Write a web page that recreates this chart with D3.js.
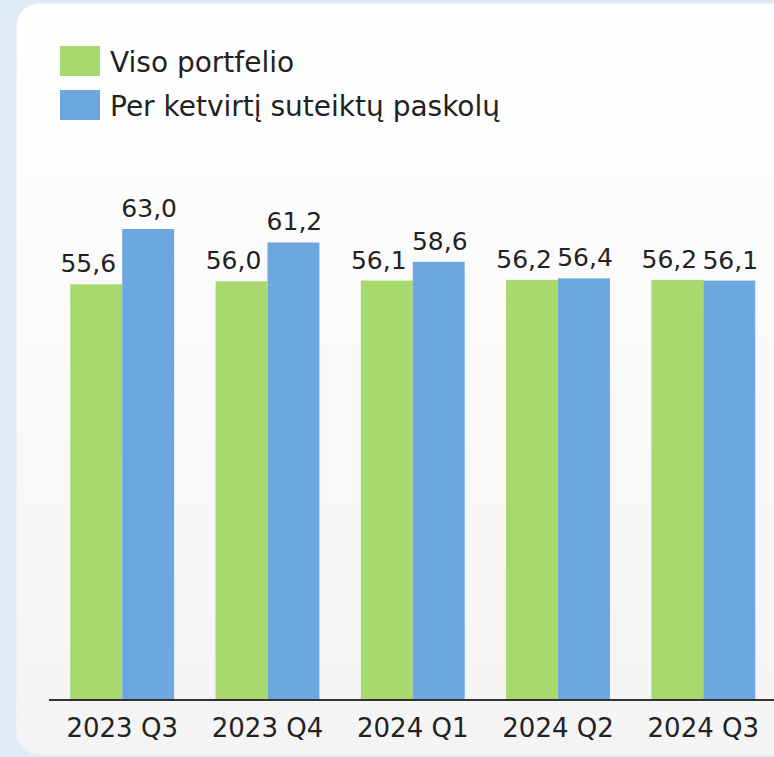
<!DOCTYPE html>
<html>
<head>
<meta charset="utf-8">
<script src="https://cdn.jsdelivr.net/npm/d3@7"></script>
<style>
  html, body { margin: 0; padding: 0; background: #deeaf5; }
  svg { display: block; }
</style>
</head>
<body>
<script>
const quarters = ["2023 Q3", "2023 Q4", "2024 Q1", "2024 Q2", "2024 Q3"];
const visoPortfelio = [55.6, 56.0, 56.1, 56.2, 56.2];
const perKetvirti = [63.0, 61.2, 58.6, 56.4, 56.1];
const seriesNames = ["Viso portfelio", "Per ketvirtį suteiktų paskolų"];
const seriesColors = ["#a8d96f", "#6ca7e0"];

const w = 774;
const h = 757;
const font = "'DejaVu Sans', sans-serif";

const svg = d3.select("body")
  .append("svg")
  .attr("width", w)
  .attr("height", h);

const grad = svg.append("defs").append("linearGradient")
  .attr("id", "cardbg")
  .attr("x1", 0).attr("y1", 0).attr("x2", 0).attr("y2", 1);
grad.append("stop").attr("offset", "0%").attr("stop-color", "#ffffff");
grad.append("stop").attr("offset", "100%").attr("stop-color", "#f4f4f4");

// card
svg.append("rect")
  .attr("x", 16.5).attr("y", 3.5)
  .attr("width", 800).attr("height", 751)
  .attr("rx", 22)
  .attr("fill", "url(#cardbg)")
  .attr("stroke", "#e9f2fa");

// legend
const legend = svg.append("g");
seriesNames.forEach((name, i) => {
  legend.append("rect")
    .attr("x", 60).attr("y", 46 + i * 44)
    .attr("width", 40).attr("height", 30)
    .attr("fill", seriesColors[i]);
  legend.append("text")
    .attr("x", 110).attr("y", 72 + i * 44)
    .attr("font-family", font)
    .attr("font-size", 28)
    .attr("fill", "#222")
    .text(name);
});

const baseY = 700;
const x0 = d3.scaleBand()
  .domain(quarters)
  .range([49.5, 776])
  .paddingInner(0.285)
  .paddingOuter(0.143);
const x1 = d3.scaleBand()
  .domain([0, 1])
  .range([0, x0.bandwidth()]);
const y = d3.scaleLinear()
  .domain([0, 63])
  .range([baseY, 229]);

const data = quarters.map((q, i) => ({ q, vals: [visoPortfelio[i], perKetvirti[i]] }));

const groups = svg.selectAll("g.grp")
  .data(data)
  .enter()
  .append("g")
  .attr("class", "grp")
  .attr("transform", d => `translate(${x0(d.q)},0)`);

groups.selectAll("rect")
  .data(d => d.vals)
  .enter()
  .append("rect")
  .attr("x", (d, i) => x1(i))
  .attr("y", d => y(d))
  .attr("width", x1.bandwidth())
  .attr("height", d => baseY - y(d))
  .attr("fill", (d, i) => seriesColors[i]);

groups.selectAll("text")
  .data(d => d.vals)
  .enter()
  .append("text")
  .attr("x", (d, i) => x1(i) + x1.bandwidth() / 2 + (i === 0 ? -8 : 1))
  .attr("y", d => y(d) - 12)
  .attr("text-anchor", "middle")
  .attr("font-family", font)
  .attr("font-size", 25)
  .attr("fill", "#222")
  .text(d => d.toFixed(1).replace(".", ","));

// x axis
const xAxis = svg.append("g")
  .attr("transform", `translate(0,${baseY})`)
  .call(d3.axisBottom(x0).tickSize(0).tickPadding(0));
xAxis.select(".domain")
  .attr("d", `M49,0H774`)
  .attr("stroke", "#333")
  .attr("stroke-width", 2);
xAxis.selectAll("text")
  .attr("y", 37)
  .attr("dy", null)
  .attr("font-family", font)
  .attr("font-size", 26)
  .attr("fill", "#222");
</script>
</body>
</html>
